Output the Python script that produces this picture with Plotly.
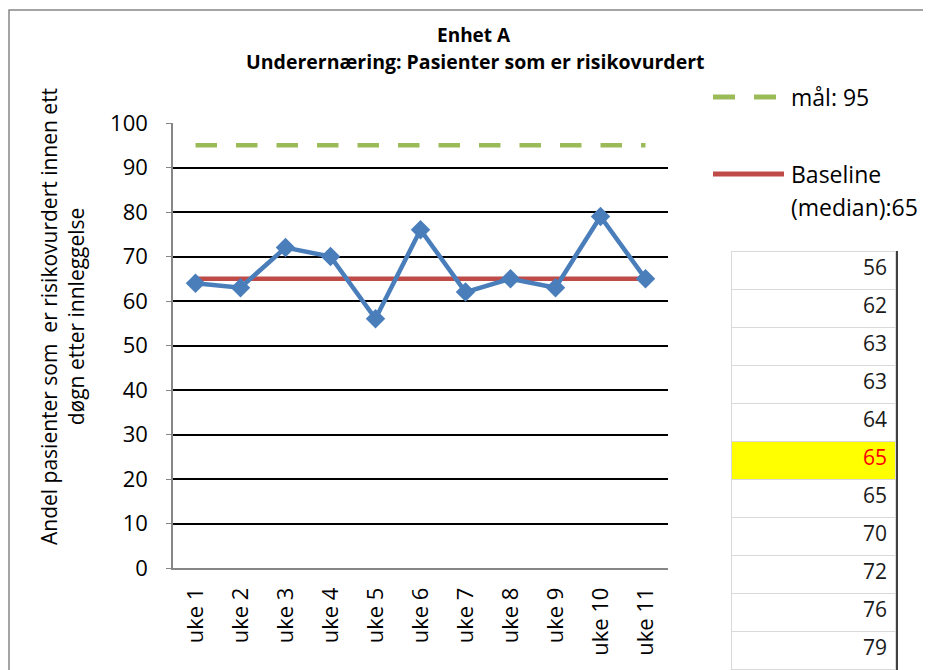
import plotly.graph_objects as go

# ---------------- data ----------------
weeks = ["uke 1", "uke 2", "uke 3", "uke 4", "uke 5", "uke 6",
         "uke 7", "uke 8", "uke 9", "uke 10", "uke 11"]
andel = [64, 63, 72, 70, 56, 76, 62, 65, 63, 79, 65]
maal = 95
baseline = 65
y_ticks = [0, 10, 20, 30, 40, 50, 60, 70, 80, 90, 100]
sorted_vals = sorted(andel)
median_idx = len(sorted_vals) // 2

VW, VH = 931, 670          # browser viewport
OFF = 8                    # default page body margin
W, H = VW - OFF, VH - OFF  # figure size so it fills the viewport exactly
FONT = "Open Sans"

# plot area in viewport pixels
L, R, T, B = 173, 668, 123, 568


def fx(px):
    return (px - OFF) / W


def fy(py):
    return 1 - (py - OFF) / H


fig = go.Figure()

fig.add_trace(go.Scatter(
    x=weeks, y=[maal] * len(weeks), mode="lines",
    line=dict(color="#9bbb59", width=4.5, dash="21.5px,19px"),
    hoverinfo="skip", showlegend=False))
fig.add_trace(go.Scatter(
    x=weeks, y=[baseline] * len(weeks), mode="lines",
    line=dict(color="#be4b48", width=4.5),
    hoverinfo="skip", showlegend=False))
fig.add_trace(go.Scatter(
    x=weeks, y=andel, mode="lines+markers",
    line=dict(color="#4a7ebb", width=4.5),
    marker=dict(symbol="diamond", size=15, color="#4a7ebb"),
    showlegend=False))

# spreadsheet cells with sorted values (first value used as header row)
row_h = 38
fills = ["#ffff00" if i == median_idx else "white" for i in range(len(sorted_vals))]
fcols = ["#ff0000" if i == median_idx else "#1a1a1a" for i in range(len(sorted_vals))]
fig.add_trace(go.Table(
    domain=dict(x=[fx(731), fx(896)], y=[0, fy(251)]),
    columnwidth=[1],
    header=dict(values=[str(sorted_vals[0])], height=row_h, align="right",
                fill=dict(color=fills[0]),
                font=dict(family=FONT, size=21, color=fcols[0]),
                line=dict(color="#d9d9d9", width=1)),
    cells=dict(values=[[str(v) for v in sorted_vals[1:]]], height=row_h,
               align="right",
               fill=dict(color=[fills[1:]]),
               font=dict(family=FONT, size=21, color=[fcols[1:]]),
               line=dict(color="#d9d9d9", width=1)),
))

shapes = [
    # chart frame
    dict(type="rect", xref="paper", yref="paper", x0=fx(9), y0=fy(700),
         x1=fx(960), y1=fy(10), line=dict(color="#868686", width=1.5),
         layer="below"),
    # black cell border at right of table
    dict(type="line", xref="paper", yref="paper", x0=fx(897), x1=fx(897),
         y0=0, y1=fy(251), line=dict(color="black", width=1.5)),
    # legend samples
    dict(type="line", xref="paper", yref="paper", x0=fx(713), x1=fx(735),
         y0=fy(97), y1=fy(97), line=dict(color="#9bbb59", width=5)),
    dict(type="line", xref="paper", yref="paper", x0=fx(754), x1=fx(776),
         y0=fy(97), y1=fy(97), line=dict(color="#9bbb59", width=5)),
    dict(type="line", xref="paper", yref="paper", x0=fx(713), x1=fx(784),
         y0=fy(174), y1=fy(174), line=dict(color="#be4b48", width=5)),
]

annotations = [
    dict(text="<b>Enhet A</b>",
         x=fx(474), y=fy(35), xref="paper", yref="paper", showarrow=False,
         xanchor="center", yanchor="middle",
         font=dict(family=FONT, size=19, color="black")),
    dict(text="<b>Underernæring: Pasienter som er risikovurdert</b>",
         x=fx(475), y=fy(61), xref="paper", yref="paper", showarrow=False,
         xanchor="center", yanchor="middle",
         font=dict(family=FONT, size=19.5, color="black")),
    dict(text="Andel pasienter som  er risikovurdert innen ett<br>døgn etter innleggelse",
         x=fx(63), y=fy(317), xref="paper", yref="paper", showarrow=False,
         textangle=-90, xanchor="center", yanchor="middle",
         font=dict(family=FONT, size=21, color="black")),
    dict(text=f"mål: {maal}", x=fx(789), y=fy(97), xref="paper", yref="paper",
         showarrow=False, xanchor="left", yanchor="middle",
         font=dict(family=FONT, size=23, color="black")),
    dict(text="Baseline", x=fx(789), y=fy(174), xref="paper", yref="paper",
         showarrow=False, xanchor="left", yanchor="middle",
         font=dict(family=FONT, size=23, color="black")),
    dict(text=f"(median):{baseline}", x=fx(789), y=fy(207), xref="paper", yref="paper",
         showarrow=False, xanchor="left", yanchor="middle",
         font=dict(family=FONT, size=23, color="black")),
]

fig.update_layout(
    width=W, height=H,
    margin=dict(l=0, r=0, t=0, b=0, autoexpand=False),
    paper_bgcolor="white", plot_bgcolor="white",
    font=dict(family=FONT, size=20, color="black"),
    shapes=shapes, annotations=annotations,
    xaxis=dict(domain=[fx(L), fx(R)], range=[-0.5, len(weeks) - 0.5],
               type="category", tickangle=-90, showgrid=False,
               showline=True, linecolor="#868686", linewidth=1.5,
               ticks="", ticklabelstandoff=9, automargin=False,
               tickfont=dict(family=FONT, size=22, color="black")),
    yaxis=dict(domain=[fy(B), fy(T)], range=[0, 100], tickvals=y_ticks,
               showgrid=True, gridcolor="black", gridwidth=1.5,
               zeroline=False, showline=True, linecolor="#868686",
               linewidth=1.5, ticks="outside", ticklen=5, tickcolor="#868686",
               ticklabelstandoff=14, automargin=False,
               tickfont=dict(family=FONT, size=22, color="black")),
)

fig.write_html("out.html")
